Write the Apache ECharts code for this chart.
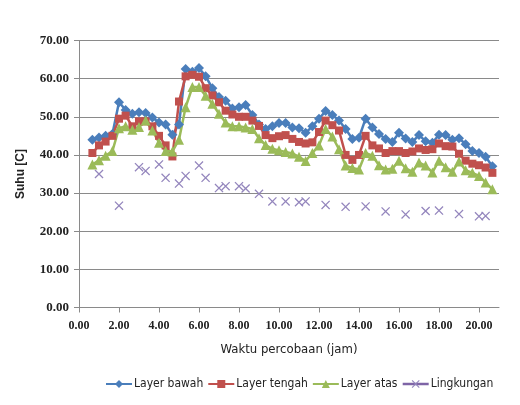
<!DOCTYPE html>
<html>
<head>
<meta charset="utf-8">
<script src="https://cdn.jsdelivr.net/npm/echarts@6/dist/echarts.min.js"></script>
<style>
  html, body { margin: 0; padding: 0; background: #fff; }
  #chart { width: 520px; height: 405px; }
</style>
</head>
<body>
<div id="chart"></div>
<script>
// waktu (jam), satu titik tiap 20 menit
const hours = [
  0.67, 1.00, 1.33, 1.67, 2.00, 2.33, 2.67, 3.00, 3.33, 3.67,
  4.00, 4.33, 4.67, 5.00, 5.33, 5.67, 6.00, 6.33, 6.67, 7.00,
  7.33, 7.67, 8.00, 8.33, 8.67, 9.00, 9.33, 9.67, 10.00, 10.33,
  10.67, 11.00, 11.33, 11.67, 12.00, 12.33, 12.67, 13.00, 13.33, 13.67,
  14.00, 14.33, 14.67, 15.00, 15.33, 15.67, 16.00, 16.33, 16.67, 17.00,
  17.33, 17.67, 18.00, 18.33, 18.67, 19.00, 19.33, 19.67, 20.00, 20.33,
  20.67
];
const layerBawah = [
  44.0, 44.6, 45.0, 45.5, 53.8, 51.8, 50.8, 51.2, 51.0, 49.8,
  48.5, 48.0, 45.3, 48.0, 62.5, 61.8, 62.8, 60.6, 57.5, 55.2,
  54.2, 52.2, 52.5, 53.1, 50.5, 48.0, 46.8, 47.5, 48.4, 48.4,
  47.2, 47.0, 45.8, 47.5, 49.5, 51.5, 50.5, 49.0, 46.8, 44.2,
  44.5, 49.5, 47.2, 45.5, 44.2, 43.4, 45.8, 44.3, 43.4, 45.2,
  43.6, 43.2, 45.3, 45.2, 44.0, 44.4, 42.8, 41.0, 40.5, 39.5,
  37.0
];
const layerTengah = [
  40.5, 42.5, 43.5, 45.0, 49.5, 50.3, 47.5, 48.8, 48.8, 47.5,
  45.0, 42.5, 39.6, 54.0, 60.6, 61.0, 60.5, 57.5, 55.6, 53.8,
  51.6, 50.6, 50.0, 50.0, 49.0, 47.6, 45.2, 44.4, 44.9, 45.2,
  44.2, 43.4, 43.0, 43.3, 46.0, 49.0, 47.8, 46.4, 40.0, 38.7,
  40.0, 45.0, 42.5, 41.7, 40.5, 41.0, 41.0, 40.5, 40.9, 41.7,
  41.3, 41.5, 43.0, 42.3, 42.2, 40.3, 38.5, 37.7, 37.3, 36.7,
  35.3
];
const layerAtas = [
  37.5, 38.6, 39.8, 41.0, 47.0, 47.5, 46.6, 47.3, 49.0, 46.4,
  43.2, 41.0, 40.9, 44.0, 52.5, 57.8, 57.8, 55.5, 53.4, 50.8,
  48.5, 47.5, 47.5, 47.2, 46.8, 44.4, 42.6, 41.6, 41.2, 40.8,
  40.4, 39.5, 38.4, 40.5, 42.5, 46.8, 44.8, 41.5, 37.2, 36.6,
  36.2, 40.5, 39.8, 37.3, 36.2, 36.4, 38.5, 36.5, 35.6, 38.0,
  37.2, 35.4, 38.5, 36.8, 35.6, 38.3, 36.0, 35.3, 34.5, 32.8,
  31.0
];
const lingkungan = [
  null, 35.0, null, null, 26.7, null, null, 36.8, 35.8, null,
  37.5, 34.0, null, 32.5, 34.5, null, 37.2, 34.0, null, 31.3,
  31.8, null, 31.8, 31.2, null, 29.8, null, 27.8, null, 27.8,
  null, 27.6, 27.8, null, null, 26.9, null, null, 26.4, null,
  null, 26.5, null, null, 25.2, null, null, 24.4, null, null,
  25.3, null, 25.4, null, null, 24.5, null, null, 23.9, 24.0,
  null
];
const xTicks = [0, 2, 4, 6, 8, 10, 12, 14, 16, 18, 20];
const seriesNames = ["Layer bawah", "Layer tengah", "Layer atas", "Lingkungan"];

function pairs(vals) {
  return hours.map((h, i) => [h, vals[i]]);
}

const crossPath = "path://M0,1L1,0L10,9L9,10Z M9,0L10,1L1,10L0,9Z";
const narrow = "'Liberation Sans Narrow', 'DejaVu Sans Condensed', 'Roboto Condensed', Roboto, sans-serif";

const chartObj = echarts.init(document.getElementById("chart"));
const option = {
  animation: false,
  backgroundColor: "#fff",
  grid: { left: 79, right: 21, top: 40.5, bottom: 97.5 },
  legend: {
    data: [
      { name: seriesNames[0] },
      { name: seriesNames[1] },
      { name: seriesNames[2] },
      { name: seriesNames[3], lineStyle: { width: 2.5, color: "#7e64a6", opacity: 1 } }
    ],
    left: 100,
    top: 373,
    itemWidth: 26,
    itemHeight: 10,
    itemGap: 4,
    textStyle: { fontFamily: narrow, fontSize: 12, color: "#222", padding: [0, 0, 0, -3] }
  },
  xAxis: {
    type: "value",
    min: 0,
    max: 21,
    name: "Waktu percobaan (jam)",
    nameLocation: "middle",
    nameGap: 36,
    nameTextStyle: { fontFamily: narrow, fontSize: 13, color: "#222" },
    axisLine: { lineStyle: { color: "#8a8a8a", width: 1 } },
    axisTick: { customValues: xTicks, length: 5, lineStyle: { color: "#8a8a8a" } },
    axisLabel: {
      customValues: xTicks,
      formatter: v => v.toFixed(2),
      fontFamily: "Liberation Serif",
      fontWeight: "bold",
      fontSize: 12,
      color: "#222",
      margin: 12
    },
    splitLine: { show: false }
  },
  yAxis: {
    type: "value",
    min: 0,
    max: 70,
    interval: 10,
    name: "Suhu [C]",
    nameLocation: "middle",
    nameGap: 52,
    nameTextStyle: { fontFamily: "Liberation Sans", fontWeight: "bold", fontSize: 12, color: "#222" },
    axisLine: { show: true, lineStyle: { color: "#8a8a8a", width: 1 } },
    axisTick: { show: true, length: 5, lineStyle: { color: "#8a8a8a" } },
    axisLabel: {
      formatter: v => v.toFixed(2),
      fontFamily: "Liberation Serif",
      fontWeight: "bold",
      fontSize: 13,
      color: "#222",
      margin: 10
    },
    splitLine: { lineStyle: { color: "#8a8a8a", width: 1 } }
  },
  series: [
    {
      name: seriesNames[0],
      type: "line",
      data: pairs(layerBawah),
      symbol: "diamond",
      symbolSize: 10,
      lineStyle: { color: "#4a7ebb", width: 2.5 },
      itemStyle: { color: "#4a7ebb" }
    },
    {
      name: seriesNames[1],
      type: "line",
      data: pairs(layerTengah),
      symbol: "rect",
      symbolSize: 8,
      lineStyle: { color: "#c0504d", width: 2.5 },
      itemStyle: { color: "#c0504d" }
    },
    {
      name: seriesNames[2],
      type: "line",
      data: pairs(layerAtas),
      symbol: "triangle",
      symbolSize: 10,
      lineStyle: { color: "#9bbb59", width: 2.5 },
      itemStyle: { color: "#9bbb59" }
    },
    {
      // hanya titik, tanpa garis penghubung
      name: seriesNames[3],
      type: "line",
      data: pairs(lingkungan),
      symbol: crossPath,
      symbolSize: 9,
      connectNulls: false,
      lineStyle: { color: "#7e64a6", width: 0, opacity: 0 },
      itemStyle: { color: "#9486bd" }
    }
  ]
};
chartObj.setOption(option);
window.addEventListener("resize", function() {
  chartObj.resize();
});
</script>
</body>
</html>
